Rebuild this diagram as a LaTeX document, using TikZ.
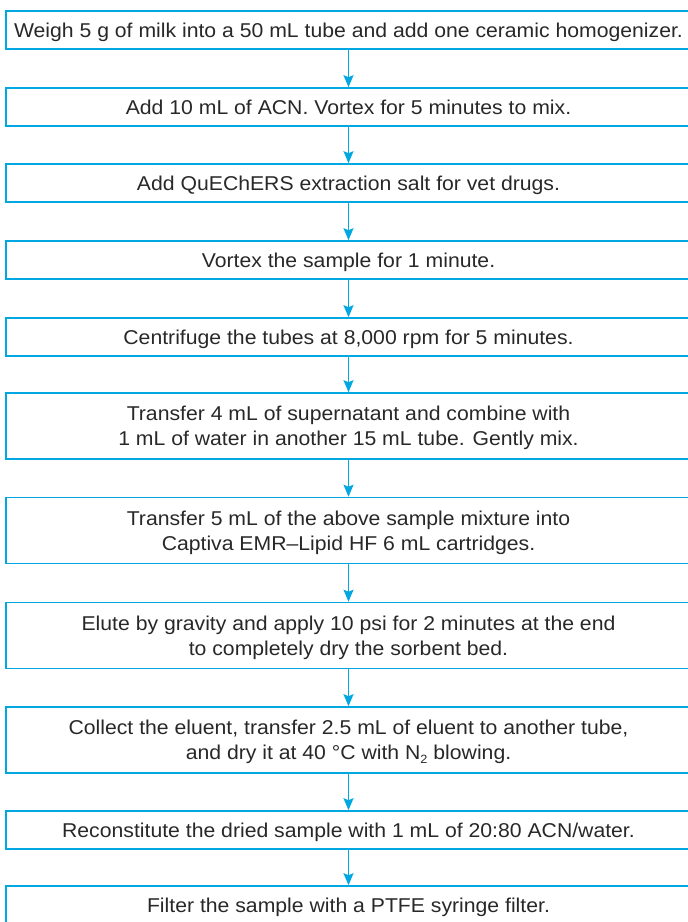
\documentclass[tikz,border=0pt]{standalone}
\usepackage{fontspec}
\setmainfont[FakeStretch=1.06]{Liberation Sans}
\usetikzlibrary{arrows.meta}
\definecolor{agblue}{RGB}{0,167,225}
\definecolor{textgray}{RGB}{40,40,40}
\tikzset{
  stepbox/.style={draw=agblue, line width=1.6pt, minimum width=685pt, inner sep=0pt,
    text=textgray, text depth=0pt, font=\fontsize{20}{25}\selectfont},
  oneline/.style={stepbox, minimum height=38pt, text height=14.3pt},
  twoline/.style={stepbox, minimum height=66pt, text height=39.3pt},
  flow/.style={draw=agblue, line width=1.2pt, -{Stealth[length=12pt,width=10pt,inset=2pt]}}
}
\newcommand{\tl}[1]{\begin{tabular}[b]{@{}c@{}}#1\end{tabular}}
\begin{document}
\begin{tikzpicture}[x=1pt,y=1pt]
\useasboundingbox (0,0) rectangle (688,922);
\node[oneline] (s1) at (348.5,892) {\tl{Weigh 5 g of milk into a 50 mL tube and add one ceramic homogenizer.}};
\node[oneline] (s2) at (348.5,815) {\tl{Add 10 mL of ACN. Vortex for 5 minutes to mix.}};
\node[oneline] (s3) at (348.5,739) {\tl{Add QuEChERS extraction salt for vet drugs.}};
\node[oneline] (s4) at (348.5,662) {\tl{Vortex the sample for 1 minute.}};
\node[oneline] (s5) at (348.5,585) {\tl{Centrifuge the tubes at 8,000 rpm for 5 minutes.}};
\node[twoline] (s6) at (348.5,496) {\tl{Transfer 4 mL of supernatant and combine with\\1 mL of water in another 15 mL tube. Gently mix.}};
\node[twoline] (s7) at (348.5,391.5) {\tl{Transfer 5 mL of the above sample mixture into\\Captiva EMR–Lipid HF 6 mL cartridges.}};
\node[twoline] (s8) at (348.5,286.5) {\tl{Elute by gravity and apply 10 psi for 2 minutes at the end\\to completely dry the sorbent bed.}};
\node[twoline] (s9) at (348.5,182) {\tl{Collect the eluent, transfer 2.5 mL of eluent to another tube,\\and dry it at 40 °C with N\raisebox{-4pt}{\fontsize{12}{12}\selectfont 2} blowing.}};
\node[oneline] (s10) at (348.5,92) {\tl{Reconstitute the dried sample with 1 mL of 20:80 ACN/water.}};
\node[oneline] (s11) at (348.5,17) {\tl{Filter the sample with a PTFE syringe filter.}};
\foreach \a/\b in {s1/s2,s2/s3,s3/s4,s4/s5,s5/s6,s6/s7,s7/s8,s8/s9,s9/s10,s10/s11}
  \draw[flow] (\a.south) -- (\b.north);
\end{tikzpicture}
\end{document}
